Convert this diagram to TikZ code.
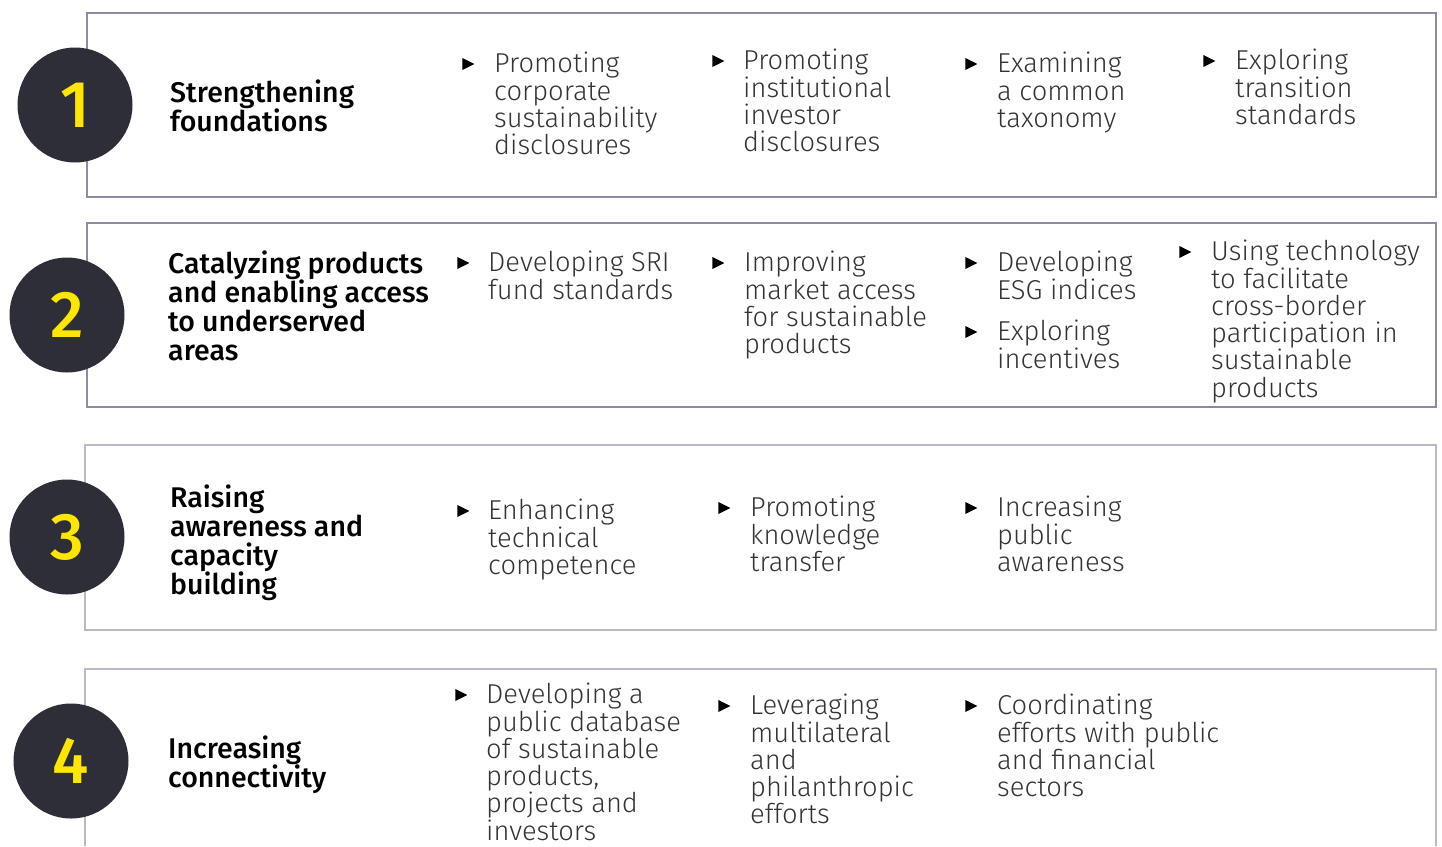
\documentclass[tikz,border=0pt]{standalone}
\usepackage{fontspec}
\setmainfont{Fira Sans}[UprightFont={* Light}, BoldFont={* Medium}]
\usetikzlibrary{shapes.geometric}

\definecolor{framedark}{HTML}{8C8CA1}
\definecolor{framelight}{HTML}{B9B9C8}
\definecolor{badgegrey}{HTML}{2E2E38}
\definecolor{eyyellow}{HTML}{FFE600}
\definecolor{textgrey}{HTML}{333333}

% fixed line pitch, no lineskip correction
\newcommand{\itemfont}{\fontsize{27.3}{27.3}\selectfont\lineskiplimit=-40pt}
\newcommand{\headfont}{\fontsize{28.5}{28.7}\selectfont\bfseries\lineskiplimit=-40pt}

\tikzset{
  frame/.style={line width=1.6pt},
  badge/.style={circle, fill=badgegrey, text=eyyellow, minimum size=115pt,
    inner sep=0pt, font=\fontsize{66}{66}\selectfont\bfseries},
  head/.style={anchor=north west, inner sep=0pt, align=left, font=\headfont},
  item/.style={anchor=north west, inner sep=0pt, align=left, font=\itemfont, text=textgrey},
  marker/.style={isosceles triangle, isosceles triangle stretches, fill=black,
    inner sep=0pt, minimum width=12pt, minimum height=12pt}
}

\begin{document}
\begin{tikzpicture}[x=1pt,y=-1pt]
\useasboundingbox (0,0) rectangle (1442,846);

% Frames
\draw[frame, draw=framedark] (87,13) rectangle (1436,197);
\draw[frame, draw=framedark] (87,223) rectangle (1436,407);
\draw[frame, draw=framelight] (85,445) rectangle (1436,630);
\draw[frame, draw=framelight] (85,846) -- (85,669) -- (1436,669) -- (1436,846);

% Numbers
\foreach \n/\x/\y in {1/75/105, 2/67/315, 3/67/537, 4/71/761}
  \node[badge] (c\n) at (\x,\y) {\n};

% Row 1
\node[head] (t1) at (170,80) {\strut Strengthening\\foundations};
\node[marker] (m11) at (466,64) {};
\node[item] (i11) at (494,52) {\strut Promoting\\corporate\\sustainability\\disclosures};
\node[marker] (m12) at (716,61) {};
\node[item] (i12) at (743,49) {\strut Promoting\\institutional\\investor\\disclosures};
\node[marker] (m13) at (969,64) {};
\node[item] (i13) at (997,52) {\strut Examining\\a common\\taxonomy};
\node[marker] (m14) at (1207,61) {};
\node[item] (i14) at (1235,49) {\strut Exploring\\transition\\standards};

% Row 2
\node[head] (t2) at (168,251) {\strut Catalyzing products\\and enabling access\\to underserved\\areas};
\node[marker] (m21) at (461,263) {};
\node[item] (i21) at (488,251) {\strut Developing SRI\\fund standards};
\node[marker] (m22) at (716,263) {};
\node[item] (i22) at (744,251) {\strut Improving\\market access\\for sustainable\\products};
\node[marker] (m23) at (969,263) {};
\node[item] (i23) at (997,251) {\strut Developing\\ESG indices};
\node[marker] (m24) at (969,332) {};
\node[item] (i24) at (997,320) {\strut Exploring\\incentives};
\node[marker] (m25) at (1183,252) {};
\node[item] (i25) at (1211,240) {\strut Using technology\\to facilitate\\cross-border\\participation in\\sustainable\\products};

% Row 3
\node[head] (t3) at (170,485) {\strut Raising\\awareness and\\capacity\\building};
\node[marker] (m31) at (461,511) {};
\node[item] (i31) at (488,499) {\strut Enhancing\\technical\\competence};
\node[marker] (m32) at (722,508) {};
\node[item] (i32) at (750,496) {\strut Promoting\\knowledge\\transfer};
\node[marker] (m33) at (969,508) {};
\node[item] (i33) at (997,496) {\strut Increasing\\public\\awareness};

% Row 4
\node[head] (t4) at (168,736) {\strut Increasing\\connectivity};
\node[marker] (m41) at (459,695) {};
\node[item] (i41) at (486,683) {\strut Developing a\\public database\\of sustainable\\products,\\projects and\\investors};
\node[marker] (m42) at (722,706) {};
\node[item] (i42) at (750,694) {\strut Leveraging\\multilateral\\and\\philanthropic\\efforts};
\node[marker] (m43) at (969,706) {};
\node[item] (i43) at (997,694) {\strut Coordinating\\efforts with public\\and financial\\sectors};

\end{tikzpicture}
\end{document}
